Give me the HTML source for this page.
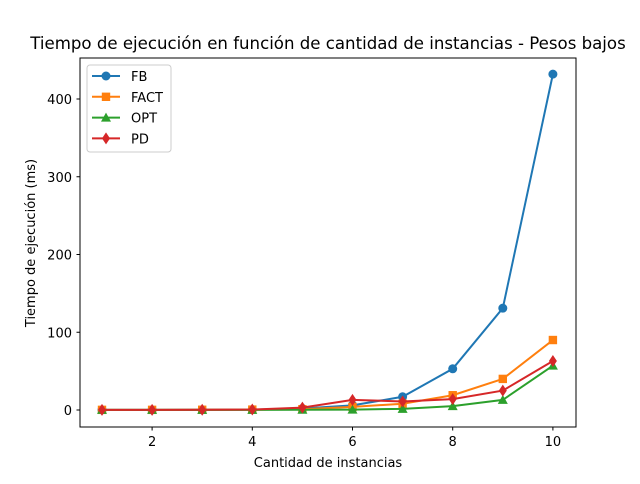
<!DOCTYPE html>
<html><head><meta charset="utf-8"><style>
body{margin:0;background:#fff;font-family:"DejaVu Sans","Liberation Sans",sans-serif}
</style></head><body>
<svg width="640" height="480" id="c" xmlns="http://www.w3.org/2000/svg">
<rect width="640" height="480" fill="#fff"/>
<text x="328" y="49" font-size="16.6" text-anchor="middle">Tiempo de ejecución en función de cantidad de instancias - Pesos bajos</text>
<text x="328" y="467" font-size="13" text-anchor="middle">Cantidad de instancias</text>
<text transform="translate(35,243) rotate(-90)" font-size="13" text-anchor="middle">Tiempo de ejecución (ms)</text>
<g id="ticks"></g>
<g id="series"></g>
<rect x="80" y="58" width="496" height="369" fill="none" stroke="#000" stroke-width="1"/>
<g id="legend"></g>
</svg>
<script>
const xs=[1,2,3,4,5,6,7,8,9,10];
const fb=[0.2,0.2,0.3,0.5,2,6,17,53,131,432];
const fact=[0.2,0.2,0.3,0.5,1,4,8,19,40,90];
const opt=[0.1,0.1,0.1,0.2,0.3,0.5,1.5,5,13,57];
const pd=[0.2,0.2,0.3,0.6,3,13,11,14,25,63];
const xTicks=[2,4,6,8,10];
const yTicks=[0,100,200,300,400];
const names=["FB","FACT","OPT","PD"];
const colors=["#1f77b4","#ff7f0e","#2ca02c","#d62728"];
const markers=["circle","square","triangle","diamond"];
const NS="http://www.w3.org/2000/svg";
const X=v=>102+(v-1)*50.1;
const Y=v=>410-v*0.7775;
function mk(t,a,p){const e=document.createElementNS(NS,t);for(const k in a)e.setAttribute(k,a[k]);p.appendChild(e);return e;}
const tg=document.getElementById('ticks');
xTicks.forEach(t=>{
  const l=mk('line',{x1:X(t),x2:X(t),y1:427,y2:430.5,stroke:'#000'},tg);
  
  
  const s=mk('text',{x:X(t),y:446,'font-size':13,'text-anchor':'middle'},tg);s.textContent=t;
  
  
});
yTicks.forEach(t=>{
  const l=mk('line',{x1:76.5,x2:80,y1:Y(t),y2:Y(t),stroke:'#000'},tg);
  
  
  const s=mk('text',{x:72,y:Y(t)+5,'font-size':13,'text-anchor':'end'},tg);s.textContent=t;
  
  
});
function marker(type,x,y,c,p){
  let e;
  if(type=='circle')e=mk('circle',{cx:x,cy:y,r:4.5,fill:c},p);
  else if(type=='square')e=mk('rect',{x:x-4.2,y:y-4.2,width:8.4,height:8.4,fill:c},p);
  else if(type=='triangle')e=mk('polygon',{points:`${x},${y-5} ${x-5},${y+4} ${x+5},${y+4}`,fill:c},p);
  else e=mk('polygon',{points:`${x},${y-6} ${x+4},${y} ${x},${y+6} ${x-4},${y}`,fill:c},p);
  return e;
}
const sg=document.getElementById('series');
[fb,fact,opt,pd].forEach((d,i)=>{
  const g=mk('g',{},sg);
  
  
  const pl=mk('polyline',{points:xs.map((x,j)=>X(x)+','+Y(d[j])).join(' '),fill:'none',stroke:colors[i],'stroke-width':2},g);
  
  
  xs.forEach((x,j)=>{
    const m=marker(markers[i],X(x),Y(d[j]),colors[i],g);
    
    
  });
});
const lg=document.getElementById('legend');


mk('rect',{x:87,y:65,width:84,height:87,rx:3,fill:'#fff',stroke:'#ccc'},lg);
names.forEach((n,i)=>{
  const y=76+i*20.8;
  const g=mk('g',{},lg);
  
  
  mk('line',{x1:92,x2:120,y1:y,y2:y,stroke:colors[i],'stroke-width':2},g);
  marker(markers[i],106,y,colors[i],g);
  const t=mk('text',{x:131,y:y+5,'font-size':13},g);t.textContent=n;
});
</script>
</body></html>
